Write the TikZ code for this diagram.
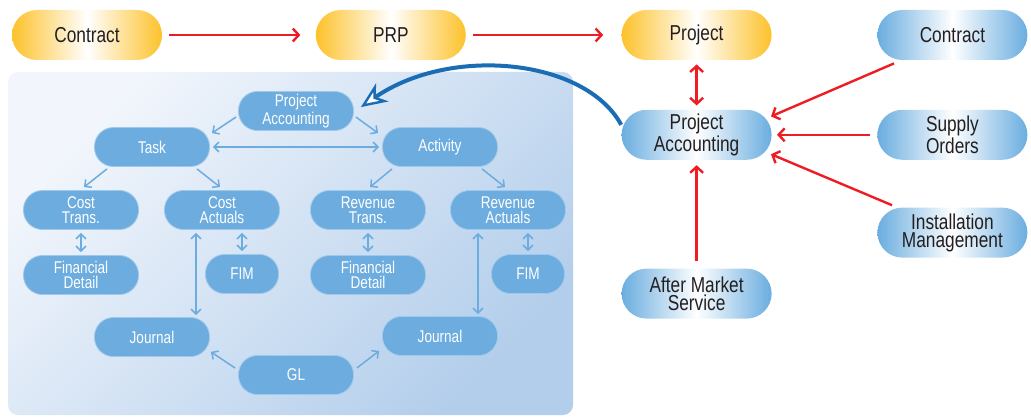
\documentclass[tikz,border=0pt]{standalone}
\usepackage{fontspec}
\setmainfont{Liberation Sans}[FakeStretch=0.8]
\usepackage{tikz}
\usetikzlibrary{positioning}
\usetikzlibrary{calc}
\usetikzlibrary{arrows.meta}
\definecolor{ycol}{HTML}{FDC22B}
\definecolor{bcol}{HTML}{6AADDF}
\definecolor{subcol}{HTML}{6CACDF}
\definecolor{redcol}{HTML}{EE1D23}
\definecolor{curvecol}{HTML}{1A6DB5}
\definecolor{txtcol}{HTML}{231F20}
\definecolor{panelA}{HTML}{F2F6FC}
\definecolor{panelB}{HTML}{B3CEEB}
\tikzset{pill/.style={rectangle, rounded corners=12.5pt, minimum width=75pt, minimum height=25pt, inner sep=1pt, align=center, text=txtcol, font=\fontsize{10.8}{8.9}\selectfont}}
\tikzset{yellowpill/.style={pill, left color=ycol, right color=ycol, middle color=white}}
\tikzset{bluepill/.style={pill, left color=bcol, right color=bcol, middle color=white}}
\tikzset{subbox/.style={rectangle, rounded corners=9.5pt, minimum width=57.5pt, minimum height=19.5pt, inner sep=1pt, fill=subcol, draw=white!35!subcol, line width=0.4pt, text=white, align=center, font=\fontsize{8.5}{7.4}\selectfont}}
\tikzset{redarrow/.style={draw=redcol, line width=1.2pt, >={Straight Barb[length=3pt,width=6.5pt]}, ->}}
\tikzset{subarrow/.style={draw=subcol, line width=0.75pt, >={Straight Barb[length=2.5pt,width=5pt]}, ->}}
\tikzset{curvearrow/.style={draw=curvecol, line width=2pt, -{Stealth[length=13pt,width=11pt,inset=4pt,fill=white,line width=1.2pt]}}}

\begin{document}
\begin{tikzpicture}[x=0.5pt, y=-0.5pt]
\useasboundingbox (0,0) rectangle (1031,417);
\shade[rounded corners=5pt, top color=panelA, bottom color=panelB, shading angle=45] (8,72) rectangle (573,415);

% main flow
\node[yellowpill] (contractA) at (87,35) {Contract};
\node[yellowpill, right=76.5pt of contractA] (prp) {PRP};
\node[yellowpill, right=77.5pt of prp] (project) {Project};
\node[bluepill, right=52.5pt of project] (contractB) {Contract};
\node[bluepill, below=24.5pt of project] (pa) {Project\\Accounting};
\node[bluepill, below=24.5pt of contractB] (supply) {Supply\\Orders};
\node[bluepill, below=23.5pt of supply] (install) {Installation\\Management};
\node[bluepill, below=54pt of pa] (after) {After Market\\Service};

% project accounting detail
\node[subbox] (ipa) at (296,111) {Project\\Accounting};
\node[subbox] (task) at (152,147) {Task};
\node[subbox] (activity) at (440,147) {Activity};
\node[subbox] (costtr) at (81,210) {Cost\\Trans.};
\node[subbox] (costact) at (222,210) {Cost\\Actuals};
\node[subbox] (revtr) at (368,210) {Revenue\\Trans.};
\node[subbox] (revact) at (508,210) {Revenue\\Actuals};
\node[subbox] (findetA) at (81,275) {Financial\\Detail};
\node[subbox, minimum width=36.5pt] (fimA) at (242,274) {FIM};
\node[subbox] (findetB) at (368,275) {Financial\\Detail};
\node[subbox, minimum width=36.5pt] (fimB) at (528,274) {FIM};
\node[subbox] (journalA) at (152,337) {Journal};
\node[subbox] (journalB) at (440,336) {Journal};
\node[subbox] (gl) at (296,375) {GL};
\coordinate (caj) at ($(costact.south)+(-26,0)$);
\coordinate (raj) at ($(revact.south)+(-30,0)$);

\draw[redarrow, shorten <=3.5pt, shorten >=7.5pt] (contractA) -- (prp);
\draw[redarrow, shorten <=3.5pt, shorten >=9pt] (prp) -- (project);
\draw[redarrow, <->, shorten <=2pt, shorten >=2pt] (project) -- (pa);
\draw[redarrow] ($(contractB.south west)+(17,3)$) -- ($(pa.north east)+(-1,7)$);
\draw[redarrow, shorten <=3.5pt, shorten >=2.5pt] (supply) -- (pa);
\draw[redarrow] ($(install.north west)+(15,-2)$) -- ($(pa.south east)+(-1,-6)$);
\draw[redarrow, shorten <=3.5pt, shorten >=2.5pt] (after) -- (pa);

\draw[curvearrow] ($(pa.west)+(0,-10)$) .. controls +(-36,-66) and +(90,-62) .. ($(ipa.north east)+(7,16)$);

\draw[subarrow] ($(ipa.west)+(-2,6)$) -- ($(task.north east)+(2,6)$);
\draw[subarrow] ($(ipa.east)+(2,6)$) -- ($(activity.north west)+(-4,6)$);
\draw[subarrow, <->, shorten <=1.5pt, shorten >=1.5pt] (task) -- (activity);
\draw[subarrow] ($(task.south)+(-45,2)$) -- ($(costtr.north)+(3,-3)$);
\draw[subarrow] ($(task.south)+(45,2)$) -- ($(costact.north)+(-2,-3)$);
\draw[subarrow] ($(activity.south)+(-48,2)$) -- ($(revtr.north)+(2,-3)$);
\draw[subarrow] ($(activity.south)+(42,2)$) -- ($(revact.north)+(-3,-3)$);
\draw[subarrow, <->, shorten <=1.5pt, shorten >=1.5pt] (costtr) -- (findetA);
\draw[subarrow, <->, shorten <=1.5pt, shorten >=1.5pt] (costact.south -| fimA) -- (fimA.north);
\draw[subarrow, <->, shorten <=1.5pt, shorten >=1pt] (caj) -- (caj |- journalA.north);
\draw[subarrow, <->, shorten <=1.5pt, shorten >=1.5pt] (revtr) -- (findetB);
\draw[subarrow, <->, shorten <=1.5pt, shorten >=1.5pt] (revact.south -| fimB) -- (fimB.north);
\draw[subarrow, <->, shorten <=1.5pt, shorten >=1pt] (raj) -- (raj |- journalB.north);
\draw[subarrow] ($(gl.west)+(-3,-7)$) -- ($(journalA.south east)+(1,-5)$);
\draw[subarrow] ($(gl.east)+(3,-7)$) -- ($(journalB.south west)+(-3,-5)$);
\end{tikzpicture}
\end{document}
